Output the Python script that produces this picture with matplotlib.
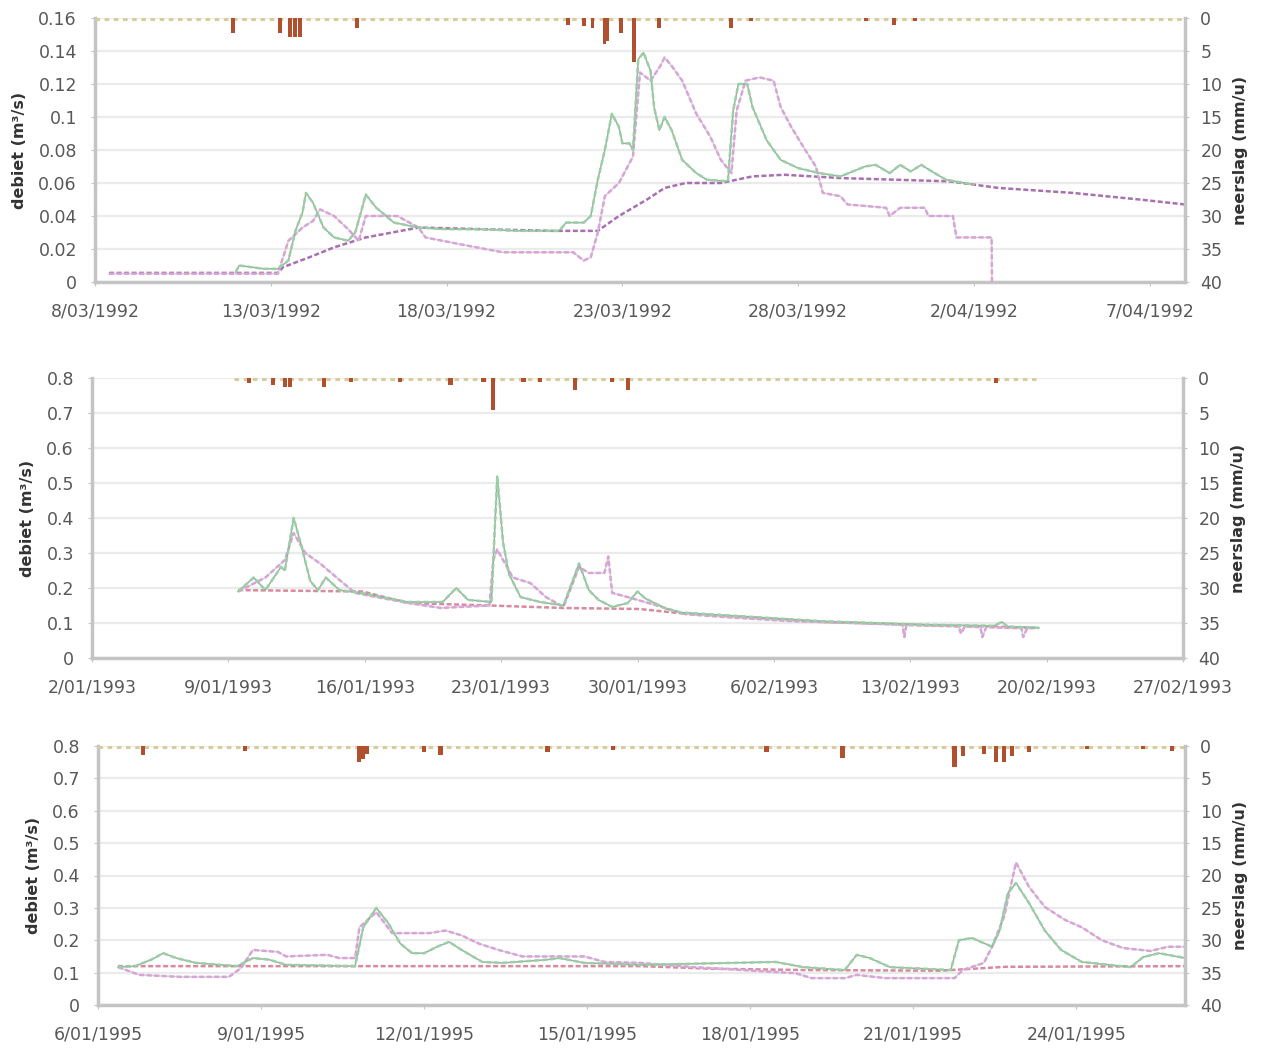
import datetime as dt
import matplotlib
matplotlib.use("Agg")
import matplotlib.pyplot as plt
import matplotlib.dates as mdates
from matplotlib.ticker import FuncFormatter, MultipleLocator

# ---------------- data: panel 1 (start 8/03/1992) ----------------
p1_start = dt.datetime(1992, 3, 8)
p1_green_d = [4.0, 4.1, 4.8, 5.2, 5.5, 5.7, 5.9, 6.0, 6.2, 6.5, 6.8, 7.2, 7.4, 7.6, 7.7, 8.0, 8.5, 9.2,
              10, 11, 12, 13.2, 13.4, 13.9, 14.1, 14.3, 14.5, 14.7, 14.9, 15.0, 15.2, 15.3, 15.45, 15.6,
              15.8, 15.9, 16.05, 16.2, 16.4, 16.7, 17.1, 17.4, 18.0, 18.15, 18.3, 18.55, 18.7, 19.1, 19.5,
              20.0, 20.6, 21.2, 21.9, 22.2, 22.6, 22.9, 23.2, 23.5, 23.8, 24.2, 25.0]
p1_green_v = [0.006, 0.010, 0.008, 0.008, 0.013, 0.031, 0.042, 0.054, 0.048, 0.033, 0.027, 0.025, 0.030,
              0.045, 0.053, 0.045, 0.036, 0.033, 0.032, 0.032, 0.031, 0.031, 0.036, 0.036, 0.040, 0.062,
              0.080, 0.102, 0.094, 0.084, 0.084, 0.080, 0.135, 0.139, 0.128, 0.106, 0.092, 0.100, 0.092,
              0.074, 0.066, 0.062, 0.061, 0.104, 0.120, 0.120, 0.106, 0.086, 0.074, 0.069, 0.066, 0.064,
              0.070, 0.071, 0.066, 0.071, 0.067, 0.071, 0.067, 0.062, 0.059]
p1_pink_d = [0.4, 5.2, 5.5, 5.9, 6.2, 6.4, 6.8, 7.2, 7.5, 7.7, 8.6, 9.2, 9.4, 10.6, 11.6, 13.6, 13.9, 14.1,
             14.3, 14.5, 14.9, 15.1, 15.3, 15.5, 15.8, 16.05, 16.2, 16.4, 16.7, 17.1, 17.5, 17.8, 18.1,
             18.25, 18.5, 18.9, 19.3, 19.5, 19.8, 20.2, 20.5, 20.7, 21.2, 21.4, 22.5, 22.6, 22.9, 23.6,
             23.7, 24.4, 24.5, 25.5, 25.51]
p1_pink_v = [0.005, 0.005, 0.025, 0.033, 0.037, 0.044, 0.040, 0.032, 0.025, 0.040, 0.040, 0.033, 0.027,
             0.022, 0.018, 0.018, 0.013, 0.015, 0.030, 0.052, 0.060, 0.068, 0.076, 0.127, 0.122, 0.130,
             0.136, 0.131, 0.122, 0.102, 0.088, 0.074, 0.066, 0.104, 0.122, 0.124, 0.122, 0.106, 0.094,
             0.080, 0.070, 0.054, 0.052, 0.047, 0.045, 0.040, 0.045, 0.045, 0.040, 0.040, 0.027, 0.027, 0.0]
p1_base_d = [0.4, 5.2, 5.35, 6.1, 6.8, 7.7, 9.2, 11, 13, 14.3, 14.9, 15.7, 16.2, 16.8, 17.8, 18.7, 19.6,
             21.2, 24.3, 25.7, 27.8, 29.7, 31.0]
p1_base_v = [0.0055, 0.0055, 0.009, 0.015, 0.021, 0.027, 0.033, 0.032, 0.031, 0.031, 0.040, 0.050, 0.057,
             0.060, 0.060, 0.064, 0.065, 0.063, 0.061, 0.057, 0.054, 0.050, 0.047]
p1_rain_d = [3.92, 5.26, 5.54, 5.7, 5.82, 7.44, 13.44, 13.9, 14.15, 14.49, 14.57, 14.97, 15.34, 16.05,
             18.1, 18.66, 21.93, 22.73, 23.32]
p1_rain_v = [2.3, 2.3, 2.9, 2.9, 2.9, 1.5, 1.0, 1.2, 1.5, 4.0, 3.5, 2.3, 6.6, 1.5, 1.5, 0.5, 0.5, 1.0, 0.5]
p1_rain_span = [0, 31]

# ---------------- data: panel 2 (start 2/01/1993) ----------------
p2_start = dt.datetime(1993, 1, 2)
p2_green_d = [7.5, 8.3, 8.9, 9.7, 9.9, 10.35, 10.75, 11.2, 11.6, 12.0, 12.7, 13.9, 16.2, 18.0, 18.7, 19.3,
              20.5, 20.8, 21.1, 21.4, 22.0, 23.0, 24.2, 25.0, 25.5, 26.0, 26.7, 27.5, 28.0, 28.4, 29.5,
              30.2, 37.5, 42.8, 46.3, 46.7, 47.0, 48.6]
p2_green_v = [0.19, 0.23, 0.194, 0.26, 0.25, 0.40, 0.32, 0.22, 0.194, 0.23, 0.194, 0.185, 0.16, 0.16, 0.20,
              0.166, 0.16, 0.52, 0.33, 0.24, 0.174, 0.16, 0.15, 0.27, 0.194, 0.166, 0.146, 0.157, 0.19,
              0.17, 0.14, 0.13, 0.105, 0.095, 0.092, 0.103, 0.09, 0.086]
p2_pink_d = [7.5, 8.9, 9.9, 10.35, 10.95, 11.8, 12.7, 13.5, 15.0, 16.5, 17.9, 20.4, 20.6, 20.8, 21.6, 22.5,
             23.3, 24.2, 25.0, 25.5, 26.3, 26.5, 26.7, 27.5, 29.0, 30.5, 33, 36, 39, 41.6, 41.7, 41.8,
             44.5, 44.6, 44.8, 45.6, 45.7, 45.9, 47.7, 47.8, 48.0, 48.6]
p2_pink_v = [0.19, 0.23, 0.28, 0.357, 0.30, 0.266, 0.223, 0.186, 0.17, 0.155, 0.143, 0.15, 0.28, 0.31,
             0.23, 0.214, 0.174, 0.146, 0.26, 0.243, 0.243, 0.29, 0.186, 0.174, 0.15, 0.125, 0.115, 0.105,
             0.10, 0.095, 0.06, 0.094, 0.09, 0.07, 0.09, 0.088, 0.06, 0.088, 0.085, 0.06, 0.085, 0.086]
p2_base_d = [7.5, 13.9, 16.2, 20.4, 24.15, 28.1, 30.2, 37.5, 42.8, 48.6]
p2_base_v = [0.194, 0.19, 0.157, 0.15, 0.143, 0.14, 0.128, 0.103, 0.094, 0.086]
p2_rain_d = [8.05, 9.3, 9.9, 10.15, 11.9, 13.3, 15.8, 18.4, 20.1, 20.6, 22.15, 23.0, 24.8, 26.7, 27.5, 46.4]
p2_rain_v = [0.7, 1.0, 1.3, 1.3, 1.3, 0.5, 0.5, 1.0, 0.5, 4.6, 0.5, 0.5, 1.7, 0.5, 1.7, 0.7]
p2_rain_span = [7.3, 48.5]

# ---------------- data: panel 3 (start 6/01/1995) ----------------
p3_start = dt.datetime(1995, 1, 6)
p3_green_d = [0.37, 0.68, 0.98, 1.2, 1.44, 1.8, 2.56, 2.85, 3.15, 3.46, 4.73, 4.88, 5.12, 5.34, 5.56, 5.78,
              6.0, 6.24, 6.46, 6.69, 7.07, 7.44, 8.27, 8.49, 8.95, 9.98, 12.47, 12.98, 13.74, 13.96, 14.2,
              14.57, 15.69, 15.84, 16.08, 16.45, 16.59, 16.74, 16.89, 17.13, 17.42, 17.72, 18.1, 19.0,
              19.23, 19.52, 20.0]
p3_green_v = [0.117, 0.12, 0.14, 0.16, 0.145, 0.13, 0.12, 0.145, 0.14, 0.124, 0.12, 0.24, 0.30, 0.253,
              0.19, 0.16, 0.16, 0.18, 0.195, 0.17, 0.133, 0.13, 0.14, 0.145, 0.13, 0.124, 0.133, 0.117,
              0.108, 0.155, 0.145, 0.117, 0.108, 0.2, 0.207, 0.18, 0.23, 0.345, 0.377, 0.315, 0.23, 0.17,
              0.133, 0.117, 0.148, 0.16, 0.145]
p3_pink_d = [0.37, 0.76, 1.51, 2.41, 2.63, 2.85, 3.31, 3.46, 4.22, 4.44, 4.73, 4.81, 5.12, 5.41, 6.1, 6.39,
             6.69, 7.0, 7.37, 7.81, 8.95, 9.32, 9.98, 10.96, 12.84, 13.13, 13.74, 13.96, 14.49, 15.76,
             15.91, 16.3, 16.45, 16.67, 16.89, 17.13, 17.42, 17.79, 18.1, 18.47, 18.86, 19.37, 19.69, 20.0]
p3_pink_v = [0.117, 0.093, 0.087, 0.087, 0.114, 0.17, 0.164, 0.15, 0.155, 0.145, 0.145, 0.24, 0.287, 0.222,
             0.222, 0.23, 0.215, 0.19, 0.17, 0.15, 0.15, 0.133, 0.13, 0.117, 0.098, 0.083, 0.083, 0.093,
             0.083, 0.083, 0.108, 0.13, 0.18, 0.272, 0.44, 0.365, 0.303, 0.263, 0.24, 0.2, 0.176, 0.167,
             0.18, 0.18]
p3_base_d = [0.37, 10.0, 11.3, 13.0, 15.5, 16.7, 20.0]
p3_base_v = [0.12, 0.12, 0.112, 0.108, 0.106, 0.118, 0.12]
p3_rain_d = [0.83, 2.7, 4.8, 4.88, 4.95, 6.0, 6.3, 8.27, 9.47, 12.3, 13.7, 15.76, 15.91, 16.3, 16.52, 16.67,
             16.82, 17.13, 18.2, 19.23, 19.76]
p3_rain_v = [1.4, 0.7, 2.5, 2.0, 1.2, 1.0, 1.4, 1.0, 0.6, 1.0, 1.9, 3.2, 1.5, 1.2, 2.5, 2.5, 1.5, 1.0, 0.5,
             0.5, 0.7]
p3_rain_span = [0, 20]

panels = [
    dict(start=p1_start, days=31, step=5, ymax=0.16, ystep=0.02,
         green=(p1_green_d, p1_green_v), pink=(p1_pink_d, p1_pink_v), base=(p1_base_d, p1_base_v),
         rain=(p1_rain_d, p1_rain_v), span=p1_rain_span, base_col="#a870b0", bw=0.11,
         rect=[95, 18, 1185, 282]),
    dict(start=p2_start, days=56, step=7, ymax=0.8, ystep=0.1,
         green=(p2_green_d, p2_green_v), pink=(p2_pink_d, p2_pink_v), base=(p2_base_d, p2_base_v),
         rain=(p2_rain_d, p2_rain_v), span=p2_rain_span, base_col="#d98a9e", bw=0.22,
         rect=[92, 378, 1183, 658]),
    dict(start=p3_start, days=20, step=3, ymax=0.8, ystep=0.1,
         green=(p3_green_d, p3_green_v), pink=(p3_pink_d, p3_pink_v), base=(p3_base_d, p3_base_v),
         rain=(p3_rain_d, p3_rain_v), span=p3_rain_span, base_col="#d98a9e", bw=0.08,
         rect=[98, 746, 1185, 1005]),
]

W, H = 1268, 1048
fig = plt.figure(figsize=(W / 100, H / 100), dpi=100)
plt.rcParams['font.family'] = ['DejaVu Sans']

tick_col = "#585858"
spine_col = "#c4c4c4"
tick_size = 12.5
lab_size = 11.5


def ynum(v, pos):
    return ("%.2f" % v).rstrip("0").rstrip(".")


def dlabel(v, pos):
    d = mdates.num2date(v)
    return "{}/{:02d}/{}".format(d.day, d.month, d.year)


for p in panels:
    x0, y0, x1, y1 = p["rect"]
    ax = fig.add_axes([x0 / W, 1 - y1 / H, (x1 - x0) / W, (y1 - y0) / H])
    t0 = mdates.date2num(p["start"])

    def tx(days, t0=t0):
        return [t0 + d for d in days]

    ax.set_xlim(t0, t0 + p["days"])
    ax.set_ylim(0, p["ymax"])
    ax.yaxis.set_major_locator(MultipleLocator(p["ystep"]))
    ax.yaxis.set_major_formatter(FuncFormatter(ynum))
    ax.set_xticks([t0 + d for d in range(0, p["days"] + 1, p["step"])])
    ax.xaxis.set_major_formatter(FuncFormatter(dlabel))
    ax.grid(axis="y", color="#ebebeb", lw=1.6, zorder=0)
    ax.set_axisbelow(True)

    gd, gv = p["green"]
    pd_, pv = p["pink"]
    bd, bv = p["base"]
    ax.plot(tx(bd), bv, color=p["base_col"], lw=1.8, ls=(0, (2, 1)), zorder=3)
    ax.plot(tx(pd_), pv, color="#d0d0d0", lw=1.0, zorder=3)
    ax.plot(tx(pd_), pv, color="#d9a2d9", lw=1.8, ls=(0, (2, 1)), zorder=4)
    ax.plot(tx(gd), gv, color="#a8a8a8", lw=1.1, zorder=4)
    ax.plot(tx(gd), gv, color="#95d3a2", lw=1.8, ls=(0, (2, 1.2)), zorder=5)

    for s in ["left", "bottom"]:
        ax.spines[s].set_color(spine_col)
        ax.spines[s].set_linewidth(2.5)
    ax.spines["top"].set_visible(False)
    ax.spines["right"].set_visible(False)
    ax.tick_params(axis="both", colors=tick_col, labelsize=tick_size, length=3, color=spine_col)
    ax.tick_params(axis="x", pad=12)
    ax.tick_params(axis="y", pad=10)
    ax.set_ylabel("debiet (m³/s)", fontsize=lab_size, fontweight="bold", color="#333333", labelpad=8)

    # precipitation on inverted secondary axis
    ax2 = ax.twinx()
    ax2.set_ylim(40, 0)
    ax2.yaxis.set_major_locator(MultipleLocator(5))
    rd, rv = p["rain"]
    ax2.bar(tx(rd), rv, width=p["bw"], color="#b0502e", zorder=3)
    ax2.plot(tx(p["span"]), [0.15, 0.15], color="#d8cc9c", lw=2.2, ls=(0, (1.5, 1.5)), zorder=2)
    for s in ["left", "bottom", "top"]:
        ax2.spines[s].set_visible(False)
    ax2.spines["right"].set_color(spine_col)
    ax2.spines["right"].set_linewidth(2.5)
    ax2.tick_params(axis="y", colors=tick_col, labelsize=tick_size, length=3, color=spine_col, pad=8)
    ax2.set_ylabel("neerslag (mm/u)", fontsize=lab_size, fontweight="bold", color="#333333",
                   rotation=90, labelpad=8)

fig.savefig("out.png", dpi=100)
